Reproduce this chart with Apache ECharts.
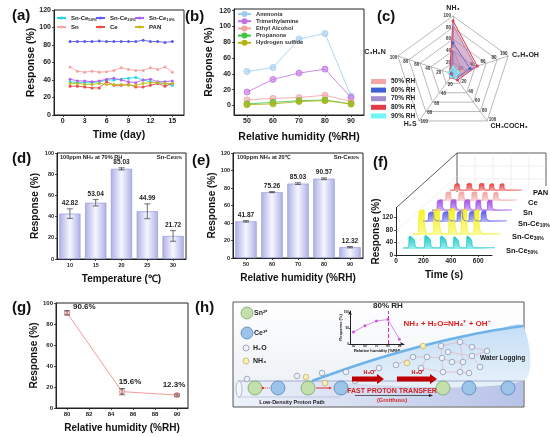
<!DOCTYPE html>
<html>
<head>
<meta charset="utf-8">
<script src="https://cdn.jsdelivr.net/npm/echarts@6.0.0/dist/echarts.min.js"></script>
<style>
html, body { margin: 0; padding: 0; background: #fff; }
#main { width: 550px; height: 437px; }
</style>
</head>
<body>
<div id="main"></div>
<script type="text/javascript">
var FONT = 'Liberation Sans, Arial, sans-serif';

// (a) stability over 15 days
var days = [1, 2, 3, 4, 5, 6, 7, 8, 9, 10, 11, 12, 13, 14, 15];
var aNames = ['Sn-Ce50%', 'Sn-Ce30%', 'Sn-Ce10%', 'Sn', 'Ce', 'PAN'];
var snCe50 = [38, 37, 37, 37, 38, 40, 40, 41, 42, 43, 40, 38, 37, 36, 34];
var snCe30 = [84, 84, 84, 84, 84.5, 84, 84, 84, 84, 84, 85.5, 84, 84, 83, 84];
var snCe10 = [41, 39, 39, 38, 39, 41, 42, 40, 38, 37, 40, 41, 38, 38, 39];
var snOnly = [55, 50, 49, 50, 49, 49.5, 51, 54, 52, 51, 51, 54, 52, 55, 49];
var ceOnly = [33, 33, 32, 31, 31, 38, 34, 34, 35, 32, 32, 34, 36, 33, 36];
var panOnly = [36, 36, 35, 35, 36, 35, 35, 35, 34, 34, 36, 37, 37, 36, 36];

// (b) selectivity vs humidity
var rhCats = ['50', '60', '70', '80', '90'];
var bNames = ['Ammonia', 'Trimethylamine', 'Ethyl Alcohol', 'Propanone', 'Hydrogen sulfide'];
var ammonia = [43, 48, 84, 91, 12];
var trimethylamine = [17, 33, 41, 46, 10];
var ethylAlcohol = [7, 9, 10, 13, 5];
var propanone = [2, 4, 6, 7, 2];
var hydrogenSulfide = [1, 2, 5, 6, 2];

// (c) radar, indicators listed counter-clockwise from the top
var radarAxes = ['NH₃', 'C₃H₉N', 'H₂S', 'CH₃COCH₃', 'C₂H₅OH'];
var radarRH = ['50% RH', '60% RH', '70% RH', '80% RH', '90% RH'];
var rh50 = [43, 3, 3, 7, 17];
var rh60 = [54, 3, 4, 9, 31];
var rh70 = [85, 5, 6, 10, 41];
var rh80 = [92, 6, 7, 13, 44];
var rh90 = [12, 8, 6, 8, 10];

// (d) temperature
var temps = ['10', '15', '20', '25', '30'];
var tempResp = [42.82, 53.04, 85.03, 44.99, 21.72];
var tempErr = [4.5, 3, 1, 7, 5];

// (e) humidity at 20 C
var rhResp = [41.87, 75.26, 85.03, 90.57, 12.32];
var rhErr = [0.8, 0.6, 1, 1, 0.8];

// (f) dynamic response curves
var fLabels = ['Sn-Ce{s|50%}', 'Sn-Ce{s|30%}', 'Sn-Ce{s|10%}', 'Sn', 'Ce', 'PAN'];
var timesF = [0, 40, 50, 85, 95, 120, 160, 170, 205, 215, 240, 280, 290, 325, 335, 360,
              380, 390, 420, 430, 450, 480, 490, 520, 530, 560, 700];
var fSnCe50 = [4, 4, 42, 30, 8, 4, 4, 44, 32, 10, 4, 4, 42, 30, 8, 4, 4, 40, 28, 8, 4, 4, 42, 30, 8, 4, 4];
var fSnCe30 = [4, 4, 80, 86, 25, 4, 4, 84, 88, 25, 4, 4, 86, 90, 28, 4, 4, 84, 88, 25, 4, 4, 82, 86, 22, 4, 4];
var fSnCe10 = [4, 4, 32, 36, 10, 4, 4, 33, 37, 10, 4, 4, 34, 38, 10, 4, 4, 34, 38, 10, 4, 4, 36, 40, 12, 4, 4];
var fSn = [4, 4, 38, 42, 12, 4, 4, 40, 42, 12, 4, 4, 40, 42, 12, 4, 4, 38, 40, 10, 4, 4, 38, 40, 10, 4, 4];
var fCe = [4, 4, 34, 36, 10, 4, 4, 34, 36, 10, 4, 4, 35, 36, 10, 4, 4, 33, 35, 10, 4, 4, 33, 35, 10, 4, 4];
var fPan = [4, 4, 28, 30, 8, 4, 4, 30, 31, 8, 4, 4, 30, 31, 8, 4, 4, 28, 30, 8, 4, 4, 28, 30, 8, 4, 4];

// (g) high humidity
var gRH = [80, 85, 90];
var gResp = [90.6, 15.6, 12.3];
var gErr = [2, 3, 1];

// (h) inset
var insetRH = [50, 60, 70, 80, 90];
var insetResp = [38, 58, 73, 78, 15];

// ---------- helpers ----------
function mkAxis(gi, o) {
    var a = {
        type: o.data ? 'category' : 'value',
        gridIndex: gi,
        name: o.name || '',
        nameLocation: 'middle',
        nameGap: o.gap || 15,
        nameMoveOverlap: false,
        nameTextStyle: { fontFamily: FONT, fontWeight: 'bold', fontSize: o.nfs || 10, color: '#111' },
        axisLine: { show: true, onZero: false, lineStyle: { color: '#222', width: 1 } },
        axisTick: { show: true, length: 2, lineStyle: { color: '#222', width: 0.8 } },
        splitLine: { show: false },
        axisLabel: { fontFamily: FONT, fontWeight: 'bold', fontSize: o.fs || 6.5, color: '#222', margin: o.margin || 3 }
    };
    if (o.min !== undefined) a.min = o.min;
    if (o.max !== undefined) a.max = o.max;
    if (o.interval) a.interval = o.interval;
    if (o.data) { a.data = o.data; a.boundaryGap = true; a.axisTick.alignWithLabel = true; }
    if (o.custom) { a.axisLabel.customValues = o.custom; a.axisTick.customValues = o.custom; }
    if (o.hide) a.show = false;
    return a;
}

function errSeries(ai, xs, vals, errs, withLabel) {
    return {
        type: 'custom', xAxisIndex: ai, yAxisIndex: ai, z: 5, silent: true,
        data: vals.map(function (v, k) { return [xs[k], v, errs[k]]; }),
        renderItem: function (params, api) {
            var x = api.value(0), v = api.value(1), e = api.value(2);
            var t = api.coord([x, v + e]), b = api.coord([x, v - e]);
            var st = { stroke: '#333', lineWidth: 0.7 };
            var ch = [
                { type: 'line', shape: { x1: t[0], y1: t[1], x2: b[0], y2: b[1] }, style: st },
                { type: 'line', shape: { x1: t[0] - 3, y1: t[1], x2: t[0] + 3, y2: t[1] }, style: st },
                { type: 'line', shape: { x1: b[0] - 3, y1: b[1], x2: b[0] + 3, y2: b[1] }, style: st }
            ];
            if (withLabel) {
                ch.push({ type: 'text', x: t[0], y: t[1] - 2,
                    style: { text: v.toFixed(2), align: 'center', verticalAlign: 'bottom',
                             font: 'bold 6.5px Liberation Sans', fill: '#222' } });
            }
            return { type: 'group', children: ch };
        }
    };
}

function subRich(fs) {
    return { s: { fontFamily: FONT, fontWeight: 'bold', fontSize: fs, verticalAlign: 'bottom', padding: [3, 0, 0, 0] } };
}
function pctSub(n) {
    var m = n.match(/^(Sn-Ce)(\d+%)$/);
    return m ? m[1] + '{s|' + m[2] + '}' : n;
}

// ---------- grids ----------
var fLeft = [403, 413, 423, 432, 441, 450];
var fWidth = [92, 88, 84, 80, 76, 72];
var fBase = [249, 235, 222, 211, 201, 191];
var fH = [46, 44, 42, 40, 38, 36];

var frame = { show: true, borderColor: '#222', borderWidth: 1, backgroundColor: 'transparent', outerBoundsMode: 'none' };
var grids = [
    Object.assign({ left: 54, top: 10, width: 130, height: 105 }, frame),   // a
    Object.assign({ left: 234, top: 9, width: 130, height: 106 }, frame),   // b
    Object.assign({ left: 57, top: 153, width: 129, height: 106 }, frame),  // d
    Object.assign({ left: 233, top: 153, width: 130, height: 105 }, frame), // e
    Object.assign({ left: 56, top: 303, width: 132, height: 105 }, frame),  // g
    { left: 396, top: 208, width: 96, height: 47, outerBoundsMode: 'none' } // f axes
];
for (var i = 0; i < 6; i++) {
    grids.push({ left: fLeft[i], top: fBase[i] - fH[i], width: fWidth[i], height: fH[i], outerBoundsMode: 'none' });
}
grids.push({ left: 350, top: 311, width: 54, height: 33, outerBoundsMode: 'none' }); // h inset

var xAxes = [
    mkAxis(0, { min: -1.2, max: 16.6, custom: [0, 3, 6, 9, 12, 15], name: 'Time (day)', gap: 15, fs: 7, nfs: 10.5 }),
    mkAxis(1, { data: rhCats, name: 'Relative humidity (%RH)', gap: 17, fs: 7, nfs: 10.5 }),
    mkAxis(2, { data: temps, name: 'Temperature (℃)', gap: 15, fs: 5.5, nfs: 10 }),
    mkAxis(3, { data: rhCats, name: 'Relative humidity (%RH)', gap: 15, fs: 5.5, nfs: 10 }),
    mkAxis(4, { min: 79, max: 91, custom: [80, 82, 84, 86, 88, 90], name: 'Relative humidity (%RH)', gap: 15, fs: 6, nfs: 10 }),
    mkAxis(5, { min: 0, max: 700, custom: [0, 200, 400, 600], name: 'Time (s)', gap: 15, fs: 6.5, nfs: 10 })
];
var yAxes = [
    mkAxis(0, { min: 0, max: 120, interval: 20, name: 'Response (%)', gap: 17, fs: 7, nfs: 10.5 }),
    mkAxis(1, { min: -12, max: 122, custom: [0, 20, 40, 60, 80, 100, 120], name: 'Response (%)', gap: 19, fs: 7, nfs: 10.5 }),
    mkAxis(2, { min: 0, max: 100, interval: 20, name: 'Response (%)', gap: 17, fs: 5.5, nfs: 10 }),
    mkAxis(3, { min: 0, max: 120, interval: 20, name: 'Response (%)', gap: 16, fs: 5.5, nfs: 10 }),
    mkAxis(4, { min: 0, max: 100, interval: 20, name: 'Response (%)', gap: 17, fs: 6, nfs: 10 }),
    mkAxis(5, { min: 0, max: 150, custom: [0, 40, 80, 120], name: 'Response (%)', gap: 15, fs: 6.5, nfs: 10 })
];
for (var j = 0; j < 6; j++) {
    xAxes.push(mkAxis(6 + j, { min: 0, max: 700, hide: true }));
    yAxes.push(mkAxis(6 + j, { min: 0, max: 150, hide: true }));
}
var insetX = mkAxis(12, { min: 47, max: 94, custom: [50, 60, 70, 80, 90], name: 'Relative humidity (%RH)', gap: 5, fs: 3.2, nfs: 4, margin: 1 });
var insetY = mkAxis(12, { min: 0, max: 105, custom: [0, 50, 100], name: 'Response (%)', gap: 7, fs: 3.2, nfs: 4, margin: 1 });
insetX.axisLine.symbol = ['none', 'arrow']; insetX.axisLine.symbolSize = [3, 4];
insetY.axisLine.symbol = ['none', 'arrow']; insetY.axisLine.symbolSize = [3, 4];
insetX.axisTick.length = 1; insetY.axisTick.length = 1;
xAxes.push(insetX); yAxes.push(insetY);

// ---------- series ----------
var series = [];
var aVals = [snCe50, snCe30, snCe10, snOnly, ceOnly, panOnly];
var aColors = ['#1fd6ea', '#5c5cf2', '#b35ff0', '#f6a5a5', '#ef4a4a', '#c2bd1a'];
aNames.forEach(function (n, i) {
    series.push({
        type: 'line', name: n, xAxisIndex: 0, yAxisIndex: 0,
        data: days.map(function (d, k) { return [d, aVals[i][k]]; }),
        symbol: 'circle', symbolSize: 3,
        lineStyle: { color: aColors[i], width: 0.9 },
        itemStyle: { color: aColors[i] }
    });
});

var bVals = [ammonia, trimethylamine, ethylAlcohol, propanone, hydrogenSulfide];
var bColors = ['#9fcbef', '#c070e6', '#f2a0a0', '#3cc43c', '#b3b314'];
var bFills = ['rgba(159,203,239,0.55)', 'rgba(192,112,230,0.6)', 'rgba(242,160,160,0.55)', 'rgba(60,196,60,0.6)', 'rgba(179,179,20,0.7)'];
bNames.forEach(function (n, i) {
    series.push({
        type: 'line', name: n, xAxisIndex: 1, yAxisIndex: 1, data: bVals[i],
        symbol: 'circle', symbolSize: 6,
        lineStyle: { color: bColors[i], width: 0.8 },
        itemStyle: { color: bFills[i], borderColor: bColors[i], borderWidth: 0.8 }
    });
});

var rVals = [rh50, rh60, rh70, rh80, rh90];
var rColors = ['#f4a6a6', '#3f5fd6', '#a48ed0', '#e23a46', '#6ff6f6'];
var rOpac = [0.25, 0.15, 0.45, 0.15, 0.6];
radarRH.forEach(function (n, i) {
    series.push({
        type: 'radar', name: n, data: [{ value: rVals[i], name: n }],
        symbol: 'circle', symbolSize: 3,
        lineStyle: { color: rColors[i], width: 1 },
        itemStyle: { color: rColors[i] },
        areaStyle: { color: rColors[i], opacity: rOpac[i] }
    });
});

var barGrad = new echarts.graphic.LinearGradient(0, 0, 1, 0, [
    { offset: 0, color: '#aeb0e6' }, { offset: 0.5, color: '#f6f6ff' }, { offset: 1, color: '#aeb0e6' }]);
series.push({ type: 'bar', xAxisIndex: 2, yAxisIndex: 2, data: tempResp, barWidth: '82%',
    itemStyle: { color: barGrad, borderColor: '#8f90d6', borderWidth: 0.6 } });
series.push(errSeries(2, [0, 1, 2, 3, 4], tempResp, tempErr, true));
series.push({ type: 'bar', xAxisIndex: 3, yAxisIndex: 3, data: rhResp, barWidth: '82%',
    itemStyle: { color: barGrad, borderColor: '#8f90d6', borderWidth: 0.6 } });
series.push(errSeries(3, [0, 1, 2, 3, 4], rhResp, rhErr, true));

// (g)
var gLabelPos = [['right', [0, -6]], ['top', [8, 0]], ['top', [-3, 0]]];
series.push({
    type: 'line', xAxisIndex: 4, yAxisIndex: 4,
    data: gRH.map(function (x, k) {
        return { value: [x, gResp[k]], label: { position: gLabelPos[k][0], offset: gLabelPos[k][1] } };
    }),
    symbol: 'circle', symbolSize: 5,
    lineStyle: { color: '#f59a9a', width: 1 },
    itemStyle: { color: '#fde4e4', borderColor: '#f07c7c', borderWidth: 1 },
    label: { show: true, formatter: function (p) { return p.value[1] + '%'; },
             fontFamily: FONT, fontWeight: 'bold', fontSize: 8, color: '#222', distance: 3 }
});
series.push(errSeries(4, gRH, gResp, gErr, false));

// (f) ribbons, back first so front ones cover them
var fVals = [fSnCe50, fSnCe30, fSnCe10, fSn, fCe, fPan];
var fColors = ['#1fc6c6', '#f2f21c', '#5a5af0', '#a04ee6', '#f4a2a2', '#e84646'];
var fLight = ['#9af0ee', '#fbfb9a', '#b8b8fa', '#d9b5f5', '#fad8d8', '#f6b0b0'];
for (var r = 5; r >= 0; r--) {
    series.push({
        type: 'line', name: 'f' + r, xAxisIndex: 6 + r, yAxisIndex: 6 + r,
        data: timesF.map(function (t, k) { return [t, fVals[r][k]]; }),
        smooth: 0.35, symbol: 'none', silent: true,
        lineStyle: { color: fColors[r], width: 0.8 },
        areaStyle: { opacity: 1, color: new echarts.graphic.LinearGradient(0, 0, 0, 1, [
            { offset: 0, color: fColors[r] }, { offset: 1, color: fLight[r] }]) },
        endLabel: { show: true, formatter: fLabels[r], offset: [3, 3], fontFamily: FONT, fontWeight: 'bold',
                    fontSize: 7.5, color: '#111', rich: subRich(5) }
    });
}

// (h) inset
series.push({
    type: 'line', xAxisIndex: 12, yAxisIndex: 12,
    data: insetRH.map(function (x, k) { return [x, insetResp[k]]; }),
    symbol: 'rect', symbolSize: 2.5,
    lineStyle: { color: '#d46ee6', width: 0.8 }, itemStyle: { color: '#c650e0' },
    markLine: {
        silent: true, symbol: 'none', data: [{ xAxis: 80 }],
        lineStyle: { type: 'dashed', color: '#e21fc4', width: 1 },
        label: { formatter: '80% RH', position: 'end', fontFamily: FONT, fontWeight: 'bold', fontSize: 8, color: '#222', distance: 1 }
    }
});

// ---------- legends ----------
var legBase = {
    orient: 'vertical', itemWidth: 9, itemHeight: 4, itemGap: 2.5, padding: 0,
    formatter: pctSub,
    textStyle: { fontFamily: FONT, fontWeight: 'bold', fontSize: 6, color: '#222', rich: subRich(4.2) }
};
var legends = [
    Object.assign({ data: ['Sn-Ce50%', 'Sn'], left: 56, top: 15 }, legBase),
    Object.assign({ data: ['Sn-Ce30%', 'Ce'], left: 95, top: 15 }, legBase),
    Object.assign({ data: ['Sn-Ce10%', 'PAN'], left: 134, top: 15 }, legBase),
    { data: bNames, left: 237, top: 11, orient: 'vertical', itemWidth: 13, itemHeight: 5, itemGap: 1.2, padding: 0,
      textStyle: { fontFamily: FONT, fontWeight: 'bold', fontSize: 5.8, color: '#333' } },
    { data: radarRH, left: 371, top: 78, orient: 'vertical', icon: 'rect', itemWidth: 15, itemHeight: 5, itemGap: 1.6, padding: 0,
      textStyle: { fontFamily: FONT, fontWeight: 'bold', fontSize: 6.5, color: '#222' } }
];

// ---------- decorations ----------
function T(x, y, text, font, fill, align, z, rich) {
    return { type: 'text', x: x, y: y, z: z || 20, silent: true,
             style: { text: text, font: font, fill: fill || '#111', align: align || 'left', verticalAlign: 'middle',
                      textAlign: align || 'left', textVerticalAlign: 'middle', rich: rich } };
}
function L(pts, stroke, w, z, dash) {
    return { type: 'polyline', z: z || 1, silent: true, shape: { points: pts },
             style: { stroke: stroke, lineWidth: w, fill: null, lineDash: dash } };
}
function C(x, y, rr, fill, stroke, z) {
    return { type: 'circle', z: z || 3, silent: true, shape: { cx: x, cy: y, r: rr },
             style: { fill: fill, stroke: stroke, lineWidth: 0.7 } };
}
function arrow(x1, x2, y, bh, hh, hl, color) {
    return { type: 'polygon', z: 4, silent: true,
             shape: { points: [[x1, y - bh], [x2 - hl, y - bh], [x2 - hl, y - hh], [x2, y], [x2 - hl, y + hh], [x2 - hl, y + bh], [x1, y + bh]] },
             style: { fill: color } };
}
var PL = 'bold 15px Liberation Sans';
var richT = { s: { fontFamily: FONT, fontWeight: 'bold', fontSize: 4, verticalAlign: 'bottom', padding: [2, 0, 0, 0] } };
var gfx = [
    T(12, 16, '(a)', PL), T(185, 17, '(b)', PL), T(377, 17, '(c)', PL),
    T(12, 159, '(d)', PL), T(192, 161, '(e)', PL), T(373, 163, '(f)', PL),
    T(12, 308, '(g)', PL), T(195, 308, '(h)', PL),
    T(60, 157, '100ppm NH₃ at 70% RH', 'bold 5.6px Liberation Sans', '#222'),
    T(182, 157, 'Sn-Ce{s|30%}', 'bold 6px Liberation Sans', '#222', 'right', 20, richT),
    T(237, 157, '100ppm NH₃ at 20℃', 'bold 5.6px Liberation Sans', '#222'),
    T(359, 157, 'Sn-Ce{s|30%}', 'bold 6px Liberation Sans', '#222', 'right', 20, richT)
];
// (f) box
gfx.push(L([[396, 208], [457, 153], [546, 153], [546, 186]], '#333', 0.8, 1));
gfx.push(L([[457, 153], [457, 192]], '#333', 0.8, 1));
[475, 493, 511, 529].forEach(function (x) { gfx.push(L([[x, 153], [x, 190]], '#ddd', 0.5, 1)); });
[166, 179].forEach(function (y) { gfx.push(L([[457, y], [546, y]], '#ddd', 0.5, 1)); });
gfx.push(L([[396, 231], [457, 176]], '#e2e2e2', 0.5, 1));

// (h) schematic
gfx.push({ type: 'rect', z: -5, silent: true, shape: { x: 233, y: 302, width: 291, height: 105 },
    style: { stroke: '#555', lineWidth: 1,
             fill: new echarts.graphic.LinearGradient(0, 0, 0, 1, [{ offset: 0, color: '#ffffff' }, { offset: 1, color: '#e9edf3' }]) } });
gfx.push({ type: 'rect', z: 1, silent: true, shape: { x: 235, y: 381, width: 288, height: 25 },
    style: { fill: new echarts.graphic.LinearGradient(0, 0, 1, 0, [{ offset: 0, color: '#eef2fa' }, { offset: 0.5, color: '#d3dbf1' }, { offset: 1, color: '#b6c2e8' }]) } });
gfx.push(L([[238, 381], [523, 381]], '#8c9cc4', 0.8, 2));
gfx.push(L([[238, 397], [340, 397]], '#a8b4d4', 0.6, 2));
gfx.push({ type: 'ellipse', z: 2, silent: true, shape: { cx: 239, cy: 389, rx: 3, ry: 8 }, style: { fill: '#f4f6fb', stroke: '#8c9cc4', lineWidth: 0.7 } });
var wave = [[312, 381], [340, 371], [370, 361], [400, 352], [430, 344], [460, 337], [490, 331], [523, 326]];
gfx.push({ type: 'polygon', z: 1, silent: true, shape: { points: wave.concat([[523, 381]]), smooth: 0.3 },
    style: { fill: new echarts.graphic.LinearGradient(0, 0, 0, 1, [{ offset: 0, color: '#c4def5' }, { offset: 1, color: '#e8f1fa' }]) } });
gfx.push({ type: 'polyline', z: 2, silent: true, shape: { points: wave, smooth: 0.3 }, style: { stroke: '#6db3ea', lineWidth: 2.5, fill: null } });
// water network
var netLines = [
    [[441, 346], [460, 342], [472, 347], [487, 351]], [[413, 357], [427, 357], [442, 358], [452, 362], [463, 362], [472, 356], [480, 367]],
    [[441, 346], [442, 358], [443, 372], [460, 372], [469, 373]], [[460, 342], [463, 362], [460, 372]],
    [[396, 365], [413, 357]], [[421, 368], [443, 372]], [[448, 352], [472, 356], [487, 351]], [[427, 357], [421, 368]]
];
netLines.forEach(function (p) { gfx.push(L(p, '#f2a6b8', 0.6, 2)); });
[[441, 346], [460, 342], [472, 347], [487, 351], [413, 357], [427, 357], [442, 358], [452, 362], [463, 362],
 [472, 356], [480, 367], [396, 365], [421, 368], [443, 372], [460, 372], [469, 373], [379, 368], [448, 352],
 [247, 379], [297, 376], [322, 373], [346, 372], [355, 381]].forEach(function (p) {
    gfx.push(C(p[0], p[1], 2.8, '#eef2f8', '#7f8fab', 3));
});
[[407, 363], [423, 346], [306, 377], [325, 383]].forEach(function (p) { gfx.push(C(p[0], p[1], 2.8, '#f8efb4', '#c2aa5e', 3)); });
// ions in the proton path
[[255, 388], [308, 388], [443, 388]].forEach(function (p) { gfx.push(C(p[0], p[1], 7, '#c3dfae', '#6d9c52', 3)); });
[[278, 388], [341, 388], [469, 388], [508, 388]].forEach(function (p) { gfx.push(C(p[0], p[1], 7, '#9cc3e8', '#4b79b2', 3)); });
gfx.push(L([[263, 388], [270, 388]], '#e03030', 0.8, 4, [1, 1]));
gfx.push(arrow(262, 265, 388, 0.1, 1.5, 3, '#e03030'));
gfx.push(arrow(316, 332, 388, 0.4, 1.5, 3, '#e03030'));
// legend of the schematic
gfx.push(C(247, 313, 6, '#c3dfae', '#6d9c52', 3), C(247, 333, 6, '#9cc3e8', '#4b79b2', 3),
         C(246, 348, 3, '#eef2f8', '#7f8fab', 3), C(246, 361, 3, '#f8efb4', '#c2aa5e', 3));
gfx.push(T(254, 313, 'Sn²⁺', 'bold 7px Liberation Sans', '#222'), T(254, 333, 'Ce³⁺', 'bold 7px Liberation Sans', '#222'),
         T(253, 348, 'H₂O', 'bold 7px Liberation Sans', '#222'), T(253, 361, 'NH₃', 'bold 7px Liberation Sans', '#222'));
// proton transfer arrows and notes
gfx.push(arrow(352, 384, 379, 2.5, 5, 7, '#c00000'), arrow(397, 437, 379, 2.5, 5, 7, '#c00000'));
gfx.push(T(370, 372, 'H₃O⁺', 'bold 5.5px Liberation Sans', '#c00000', 'center'),
         T(418, 372, 'H₃O⁺', 'bold 5.5px Liberation Sans', '#c00000', 'center'));
gfx.push(T(392, 391, 'FAST PROTON TRANSFER', 'bold 7px Liberation Sans', '#d42020', 'center'));
gfx.push(L([[355, 395.5], [430, 395.5]], '#222', 0.7, 4), arrow(428, 433, 395.5, 0.3, 1.5, 4, '#222'));
gfx.push(T(392, 400, '(Grotthuss)', 'bold 5.5px Liberation Sans', '#d42020', 'center'));
gfx.push(T(292, 402, 'Low-Density Proton Path', 'bold 5.5px Liberation Sans', '#222', 'center'));
gfx.push(T(480, 358, 'Water Logging', 'bold 6.5px Liberation Sans', '#222'));
gfx.push(T(447, 324, 'NH₃ + H₂O=NH₄⁺ + OH⁻', 'bold 8px Liberation Sans', '#e01e1e', 'center'));

var myChart = echarts.init(document.getElementById('main'), null, { renderer: 'canvas' });
var option = {
    animation: false,
    backgroundColor: '#fff',
    textStyle: { fontFamily: FONT },
    grid: grids,
    xAxis: xAxes,
    yAxis: yAxes,
    radar: {
        center: [453, 74], radius: 58, startAngle: 90, splitNumber: 5, shape: 'polygon',
        indicator: radarAxes.map(function (n) { return { name: n, min: 0, max: 100 }; }),
        axisName: { color: '#222', fontSize: 7, fontWeight: 'bold', fontFamily: FONT },
        nameGap: 4,
        axisLine: { lineStyle: { color: '#8a8a8a', width: 0.6 } },
        splitLine: { lineStyle: { color: '#8a8a8a', width: 0.6 } },
        splitArea: { show: false },
        axisTick: { show: false },
        axisLabel: { show: true, fontSize: 4.5, fontWeight: 'bold', color: '#333', margin: 2,
                     formatter: function (v) { return v === 0 ? '' : v; } }
    },
    legend: legends,
    series: series,
    graphic: { elements: gfx }
};
myChart.setOption(option);
</script>
</body>
</html>
